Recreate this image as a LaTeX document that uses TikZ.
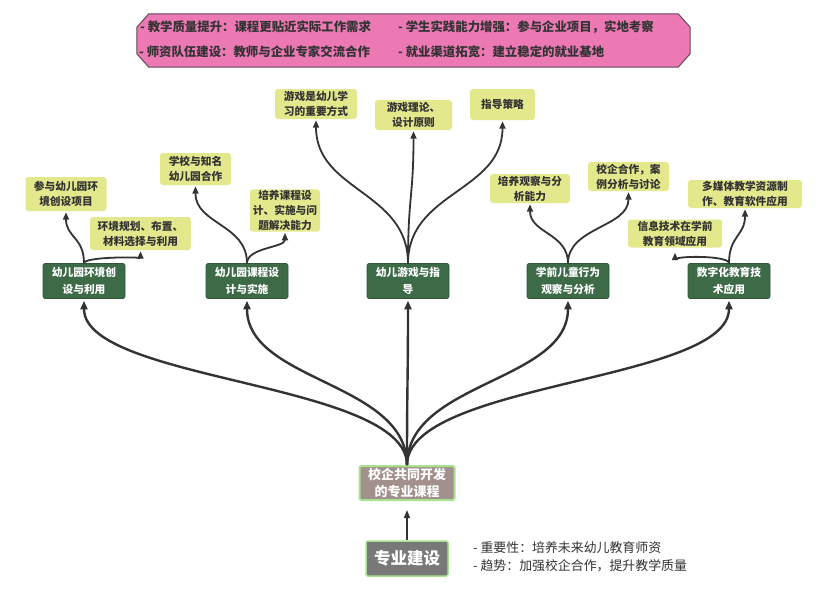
\documentclass[tikz,border=0pt]{standalone}
\usepackage{fontspec}
\setmainfont{Noto Sans CJK SC}
\usetikzlibrary{arrows.meta,calc}
\definecolor{pinkF}{HTML}{EC78B4}
\definecolor{pinkD}{HTML}{5E4B58}
\definecolor{greenF}{HTML}{3E6B47}
\definecolor{greenD}{HTML}{2E5637}
\definecolor{leafY}{HTML}{E3E88C}
\definecolor{txtD}{HTML}{333333}
\definecolor{cenF}{HTML}{A1908B}
\definecolor{lgB}{HTML}{A9E28F}
\definecolor{botF}{HTML}{787878}
\definecolor{lineC}{HTML}{333333}
\newcommand\myconn[3][]{%
  \path (#2) coordinate (s) (#3) coordinate (e) ($(s)!0.5!(e)$) coordinate (m);
  \draw[#1] (s) .. controls (s |- m) and (e |- m) .. (e);}
\tikzset{
  leaf/.style={fill=leafY, rounded corners=3pt, align=center, text=txtD,
    font=\bfseries\fontsize{10.7}{15}\selectfont, inner sep=1pt},
  lvone/.style={fill=greenF, draw=greenD, line width=0.6pt, rounded corners=2pt,
    align=center, text=white, font=\bfseries\fontsize{10.7}{16.5}\selectfont,
    minimum width=82pt, minimum height=35pt, inner sep=1pt},
  toptxt/.style={anchor=west, text=txtD, font=\bfseries\fontsize{12.4}{14}\selectfont, inner sep=0pt},
  notetxt/.style={anchor=west, text=txtD, font=\fontsize{12.9}{14}\selectfont, inner sep=0pt},
  fan/.style={draw=lineC, line width=2.4pt, -{Triangle[length=8.5pt,width=7pt]}, shorten >=2pt},
  twig/.style={draw=lineC, line width=1.8pt, -{Triangle[length=7.5pt,width=6pt]}, shorten >=1pt},
}
\begin{document}
\begin{tikzpicture}[x=1pt,y=-1pt]
\useasboundingbox[fill=white] (0,0) rectangle (820,590);
% top box
\node[minimum width=553pt, minimum height=53pt, inner sep=0pt] (top) at (413.5,40.5) {};
\draw[fill=pinkF, draw=pinkD, line width=1pt]
  ($(top.north west)+(12,0)$) -- ($(top.north east)+(-12,0)$) -- ($(top.north east)+(0,13.5)$)
  -- ($(top.south east)+(0,-13.5)$) -- ($(top.south east)+(-12,0)$) -- ($(top.south west)+(12,0)$)
  -- ($(top.south west)+(0,-13.5)$) -- ($(top.north west)+(0,13.5)$) -- cycle;
\node[toptxt] (t1) at (140,27) {- 教学质量提升：课程更贴近实际工作需求};
\node[toptxt] (t2) at (398,27) {- 学生实践能力增强：参与企业项目，实地考察};
\node[toptxt] (t3) at (139,52) {- 师资队伍建设：教师与企业专家交流合作};
\node[toptxt] (t4) at (398,52) {- 就业渠道拓宽：建立稳定的就业基地};
% level one
\node[lvone] (A) at (84,281) {幼儿园环境创\\设与利用};
\node[lvone] (B) at (247,281) {幼儿园课程设\\计与实施};
\node[lvone] (C) at (408,281) {幼儿游戏与指\\导};
\node[lvone] (D) at (568,281) {学前儿童行为\\观察与分析};
\node[lvone] (E) at (729,281) {数字化教育技\\术应用};
% central and bottom
\node[fill=cenF, draw=lgB, line width=2pt, rounded corners=2pt, align=center, text=white,
  font=\bfseries\fontsize{13}{16.5}\selectfont, minimum width=95pt, minimum height=34pt, inner sep=1pt]
  (cen) at (407,483) {校企共同开发\\的专业课程};
\node[fill=botF, draw=lgB, line width=1.5pt, rounded corners=2pt, text=white,
  font=\bfseries\fontsize{16.5}{18}\selectfont, minimum width=82pt, minimum height=35pt, inner sep=1pt]
  (bot) at (407,558.5) {专业建设};
\node[notetxt] (n1) at (473,548) {- 重要性：培养未来幼儿教育师资};
\node[notetxt] (n2) at (473,566) {- 趋势：加强校企合作，提升教学质量};
% leaves
\node[leaf, minimum width=81pt, minimum height=34pt] (A1) at (66,194) {参与幼儿园环\\境创设项目};
\node[leaf, minimum width=101pt, minimum height=33pt] (A2) at (140.5,233.5) {环境规划、布置、\\材料选择与利用};
\node[leaf, minimum width=71pt, minimum height=32pt] (B1) at (195.5,169) {学校与知名\\幼儿园合作};
\node[leaf, minimum width=70pt, minimum height=41pt] (B2) at (285,210.5) {培养课程设\\计、实施与问\\题解决能力};
\node[leaf, minimum width=82pt, minimum height=30pt] (C1) at (316,104) {游戏是幼儿学\\习的重要方式};
\node[leaf, minimum width=77pt, minimum height=30pt] (C2) at (413.5,115) {游戏理论、\\设计原则};
\node[leaf, minimum width=65pt, minimum height=31pt] (C3) at (502.5,104.5) {指导策略};
\node[leaf, minimum width=80pt, minimum height=29pt] (D1) at (530,188.5) {培养观察与分\\析能力};
\node[leaf, minimum width=81pt, minimum height=29pt] (D2) at (628.5,176.5) {校企合作，案\\例分析与讨论};
\node[leaf, minimum width=94pt, minimum height=28pt] (E1) at (675,233.5) {信息技术在学前\\教育领域应用};
\node[leaf, minimum width=114pt, minimum height=28pt] (E2) at (745,194) {多媒体教学资源制\\作、教育软件应用};
% main connectors
\draw[draw=lineC, line width=1.5pt, -{Triangle[length=8pt,width=6pt]}, shorten >=9pt] (bot.north) -- (cen.south);
\myconn[fan]{cen.north}{A.south}
\myconn[fan]{cen.north}{B.south}
\myconn[fan]{cen.north}{C.south}
\myconn[fan]{cen.north}{D.south}
\myconn[fan]{cen.north}{E.south}
% twigs
\myconn[twig]{A.north}{A1.south}
\myconn[twig]{A.north}{A2.south}
\myconn[twig]{B.north}{B1.south}
\myconn[twig]{B.north}{B2.south}
\myconn[twig]{C.north}{C1.south}
\myconn[twig]{C.north}{C2.south}
\myconn[twig]{C.north}{C3.south}
\myconn[twig]{D.north}{D1.south}
\myconn[twig]{D.north}{D2.south}
\myconn[twig, shorten >=5pt]{E.north}{E1.south}
\myconn[twig]{E.north}{E2.south}
\end{tikzpicture}
\end{document}
